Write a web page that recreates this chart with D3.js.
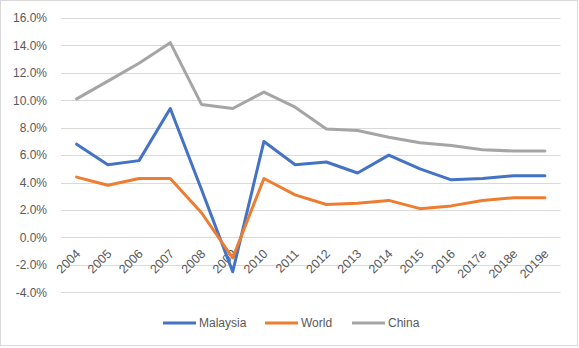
<!DOCTYPE html>
<html><head><meta charset="utf-8">
<script src="https://cdn.jsdelivr.net/npm/d3@7"></script>
<style>html,body{margin:0;padding:0;background:#fff;}svg{display:block;}</style>
</head><body>
<svg id="c" width="579" height="348"></svg>
<script>
const categories = ["2004","2005","2006","2007","2008","2009","2010","2011","2012","2013","2014","2015","2016","2017e","2018e","2019e"];
const malaysia = [6.8,5.3,5.6,9.4,3.5,-2.5,7.0,5.3,5.5,4.7,6.0,5.0,4.2,4.3,4.5,4.5];
const world    = [4.4,3.8,4.3,4.3,1.8,-1.5,4.3,3.1,2.4,2.5,2.7,2.1,2.3,2.7,2.9,2.9];
const china    = [10.1,11.4,12.7,14.2,9.7,9.4,10.6,9.5,7.9,7.8,7.3,6.9,6.7,6.4,6.3,6.3];
const yTicks = [-4,-2,0,2,4,6,8,10,12,14,16];
const seriesNames = ["Malaysia","World","China"];
const seriesColors = ["#4472C4","#ED7D31","#A5A5A5"];

const series = [malaysia, world, china];
const svg = d3.select("#c");
const font = "'Liberation Sans', Arial, sans-serif";
const textColor = "#595959";

svg.append("rect").attr("x",0.5).attr("y",0.5).attr("width",577).attr("height",345)
  .attr("fill","#fff").attr("stroke","#d9d9d9");

const x = d3.scaleBand().domain(categories).range([61,560.5]);
const y = d3.scaleLinear().domain([-4,16]).range([292.3,18]);

// gridlines
svg.append("g").selectAll("line").data(yTicks).join("line")
  .attr("x1",61).attr("x2",560.5)
  .attr("y1",d=>Math.round(y(d))+0.5).attr("y2",d=>Math.round(y(d))+0.5)
  .attr("stroke","#d9d9d9").attr("stroke-width",1);

// y labels
svg.append("g").selectAll("text").data(yTicks).join("text")
  .attr("x",47).attr("y",d=>y(d)).attr("dy","0.36em")
  .attr("text-anchor","end").attr("font-family",font).attr("font-size",12)
  .attr("fill",textColor).text(d=>d.toFixed(1)+"%");

// x labels
svg.append("g").selectAll("text").data(categories).join("text")
  .attr("transform",d=>`translate(${x(d)+x.bandwidth()/2+1.5},${y(0)+14}) rotate(-45)`)
  .attr("text-anchor","end").attr("dy","0.35em")
  .attr("font-family",font).attr("font-size",12.5).attr("fill",textColor).text(d=>d);

const line = d3.line().x((d,i)=>x(categories[i])+x.bandwidth()/2).y(d=>y(d));
series.forEach((s,k)=>{
  svg.append("path").datum(s).attr("d",line).attr("fill","none")
    .attr("stroke",seriesColors[k]).attr("stroke-width",3)
    .attr("stroke-linejoin","round").attr("stroke-linecap","round");
});

// legend
const legX = [163,265,352];
seriesNames.forEach((n,k)=>{
  const g = svg.append("g");
  g.append("line").attr("x1",legX[k]).attr("x2",legX[k]+33).attr("y1",323).attr("y2",323)
    .attr("stroke",seriesColors[k]).attr("stroke-width",3);
  g.append("text").attr("x",legX[k]+36).attr("y",323).attr("dy","0.36em")
    .attr("font-family",font).attr("font-size",12).attr("fill",textColor).text(n);
});
</script>
</body></html>
